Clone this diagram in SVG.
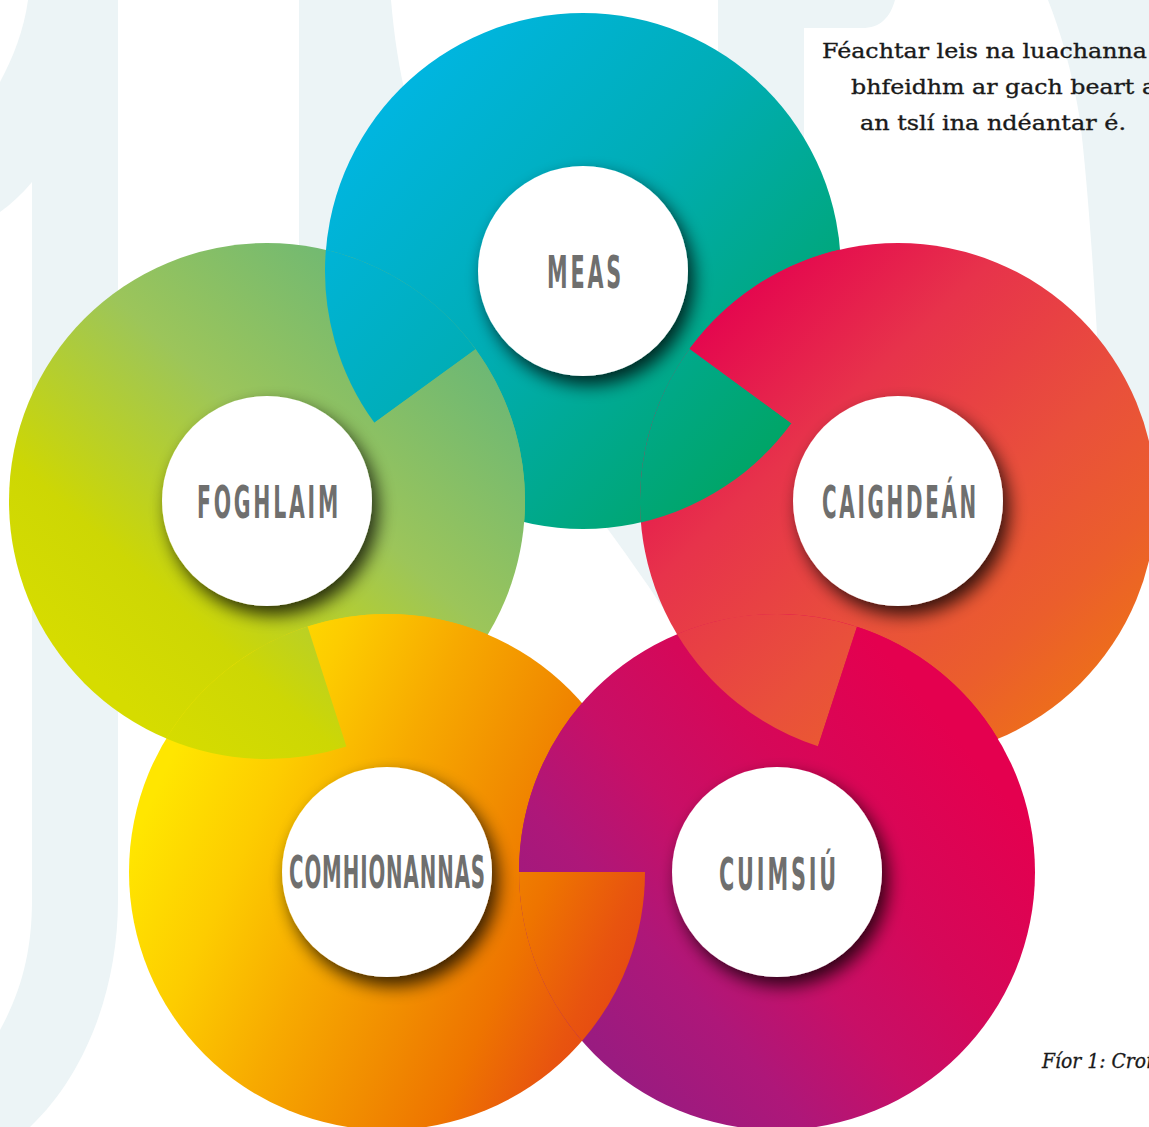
<svg xmlns="http://www.w3.org/2000/svg" width="1149" height="1127" viewBox="0 0 1149 1127">
  <defs>
    <linearGradient id="gMeas" gradientUnits="userSpaceOnUse" x1="380" y1="80" x2="800" y2="460">
      <stop offset="0" stop-color="#00B6E4"/>
      <stop offset="0.45" stop-color="#00ADB5"/>
      <stop offset="1" stop-color="#00A45F"/>
    </linearGradient>
    <linearGradient id="gFogh" gradientUnits="userSpaceOnUse" x1="480" y1="300" x2="120" y2="700">
      <stop offset="0" stop-color="#63B57A"/>
      <stop offset="0.45" stop-color="#9CC55A"/>
      <stop offset="0.8" stop-color="#CDD704"/>
      <stop offset="1" stop-color="#D6DC00"/>
    </linearGradient>
    <linearGradient id="gCaig" gradientUnits="userSpaceOnUse" x1="700" y1="300" x2="1100" y2="720">
      <stop offset="0" stop-color="#E4004F"/>
      <stop offset="0.3" stop-color="#E7334B"/>
      <stop offset="0.6" stop-color="#E9503B"/>
      <stop offset="0.8" stop-color="#EB5E2C"/>
      <stop offset="1" stop-color="#EE7414"/>
    </linearGradient>
    <linearGradient id="gComh" gradientUnits="userSpaceOnUse" x1="160" y1="780" x2="640" y2="1000">
      <stop offset="0" stop-color="#FFE600"/>
      <stop offset="0.2" stop-color="#FDCC00"/>
      <stop offset="0.4" stop-color="#F7AA00"/>
      <stop offset="0.6" stop-color="#F18C00"/>
      <stop offset="0.75" stop-color="#EE7400"/>
      <stop offset="0.9" stop-color="#E8540F"/>
      <stop offset="1" stop-color="#E54514"/>
    </linearGradient>
    <linearGradient id="gCuim" gradientUnits="userSpaceOnUse" x1="960" y1="740" x2="560" y2="1080">
      <stop offset="0" stop-color="#E4004F"/>
      <stop offset="0.3" stop-color="#D50859"/>
      <stop offset="0.5" stop-color="#C80F66"/>
      <stop offset="0.7" stop-color="#AE1779"/>
      <stop offset="0.9" stop-color="#9A1B80"/>
      <stop offset="1" stop-color="#931C81"/>
    </linearGradient>
    <filter id="sh" x="-40%" y="-40%" width="180%" height="180%">
      <feGaussianBlur in="SourceAlpha" stdDeviation="9"/>
      <feOffset dx="6" dy="9" result="o"/>
      <feComponentTransfer><feFuncA type="linear" slope="0.78"/></feComponentTransfer>
      <feMerge><feMergeNode/><feMergeNode in="SourceGraphic"/></feMerge>
    </filter>
    <style>
      .bg { fill: #ECF4F6; }
      .disc { fill: #FFFFFF; filter: url(#sh); }
      .lbl { font-family: "DejaVu Sans", "Liberation Sans", sans-serif; font-weight: bold; font-size: 44px; fill: #6F6F6E; letter-spacing: 6px; }
      .txt { font-family: "DejaVu Serif", "Liberation Serif", serif; font-size: 21px; fill: #1A1A1A; stroke: #1A1A1A; stroke-width: 0.35px; }
      .cap { font-family: "DejaVu Serif", "Liberation Serif", serif; font-style: italic; font-size: 19.5px; fill: #1A1A1A; stroke: #1A1A1A; stroke-width: 0.3px; }
    </style>
  </defs>

  <rect x="0" y="0" width="1149" height="1127" fill="#FFFFFF"/>

  <g id="background">
    <path class="bg" d="M28,0 L118,0 L118,900 C118,990 85,1075 30,1127 L0,1127 L0,1030 C22,990 32,950 32,900 L32,182 C22,194 11,204 0,212 L0,82 C13,58 24,30 28,0 Z"/>
    <path class="bg" d="M299,0 L391,0 C394,35 399,70 408,105 L430,300 L299,300 Z"/>
    <path class="bg" d="M718,0 L895,0 C890,18 880,28 862,28 L804,28 L804,200 L718,200 Z"/>
    <path class="bg" d="M1048,0 L1149,0 L1149,520 L1104,520 C1102,400 1092,220 1080,120 C1072,70 1060,30 1048,0 Z"/>
    <path class="bg" d="M590,505 C620,545 652,590 680,634 L760,634 L760,480 Z"/>
  </g>

  <g id="node-meas">
    <circle cx="583" cy="271" r="258" fill="url(#gMeas)"/>
    <circle class="disc" cx="583" cy="271" r="105"/>
    <text class="lbl" x="547" y="288" textLength="77" lengthAdjust="spacingAndGlyphs">MEAS</text>
  </g>
  <g id="node-foghlaim">
    <circle cx="267" cy="501" r="258" fill="url(#gFogh)"/>
    <circle class="disc" cx="267" cy="501" r="105"/>
    <text class="lbl" x="197" y="518" textLength="144" lengthAdjust="spacingAndGlyphs">FOGHLAIM</text>
  </g>
  <g id="node-caighdean">
    <circle cx="898" cy="501" r="258" fill="url(#gCaig)"/>
    <circle class="disc" cx="898" cy="501" r="105"/>
    <text class="lbl" x="822" y="518" textLength="157" lengthAdjust="spacingAndGlyphs">CAIGHDEÁN</text>
  </g>
  <g id="node-comhionannas">
    <circle cx="387" cy="872" r="258" fill="url(#gComh)"/>
    <circle class="disc" cx="387" cy="872" r="105"/>
    <text class="lbl" x="289" y="888" textLength="197" lengthAdjust="spacingAndGlyphs" style="letter-spacing:2px">COMHIONANNAS</text>
  </g>
  <g id="node-cuimsiu">
    <circle cx="777" cy="872" r="258" fill="url(#gCuim)"/>
    <circle class="disc" cx="777" cy="872" r="105"/>
    <text class="lbl" x="719" y="890" textLength="120" lengthAdjust="spacingAndGlyphs">CUIMSIÚ</text>
  </g>

  <g id="overlaps">
    <path fill="url(#gMeas)" d="M325.87,249.81 A258,258 0 0 0 374.40,422.83 L475.60,349.17 A258,258 0 0 0 325.87,249.81 Z"/>
    <path fill="url(#gFogh)" d="M524.13,522.19 A258,258 0 0 1 374.40,422.83 L475.60,349.17 A258,258 0 0 1 524.13,522.19 Z"/>
    <path fill="url(#gMeas)" d="M640.89,522.42 A258,258 0 0 0 791.37,423.14 L689.63,348.86 A258,258 0 0 0 640.89,522.42 Z"/>
    <path fill="url(#gCaig)" d="M840.11,249.58 A258,258 0 0 1 791.37,423.14 L689.63,348.86 A258,258 0 0 1 840.11,249.58 Z"/>
    <path fill="url(#gCaig)" d="M677.02,634.16 A258,258 0 0 0 818.00,746.29 L857.00,626.71 A258,258 0 0 0 677.02,634.16 Z"/>
    <path fill="url(#gCuim)" d="M997.98,738.84 A258,258 0 0 1 818.00,746.29 L857.00,626.71 A258,258 0 0 1 997.98,738.84 Z"/>
    <path fill="url(#gCuim)" d="M582,703.07 A258,258 0 0 0 519,872 L645,872 A258,258 0 0 0 582,703.07 Z"/>
    <path fill="url(#gComh)" d="M582,1040.93 A258,258 0 0 1 519,872 L645,872 A258,258 0 0 1 582,1040.93 Z"/>
    <path fill="url(#gComh)" d="M487.78,634.50 A258,258 0 0 0 307.60,626.52 L346.40,746.48 A258,258 0 0 0 487.78,634.50 Z"/>
    <path fill="url(#gFogh)" d="M166.22,738.50 A258,258 0 0 1 307.60,626.52 L346.40,746.48 A258,258 0 0 1 166.22,738.50 Z"/>
  </g>

  <g id="intro-text">
    <text class="txt" x="822" y="57.5" textLength="325" lengthAdjust="spacingAndGlyphs">Féachtar leis na luachanna</text>
    <text class="txt" x="851" y="94" textLength="305" lengthAdjust="spacingAndGlyphs">bhfeidhm ar gach beart a</text>
    <text class="txt" x="860" y="130" textLength="266" lengthAdjust="spacingAndGlyphs">an tslí ina ndéantar é.</text>
  </g>
  <g id="caption">
    <text class="cap" x="1042" y="1068" textLength="110" lengthAdjust="spacingAndGlyphs">Fíor 1: Croí</text>
  </g>
</svg>
